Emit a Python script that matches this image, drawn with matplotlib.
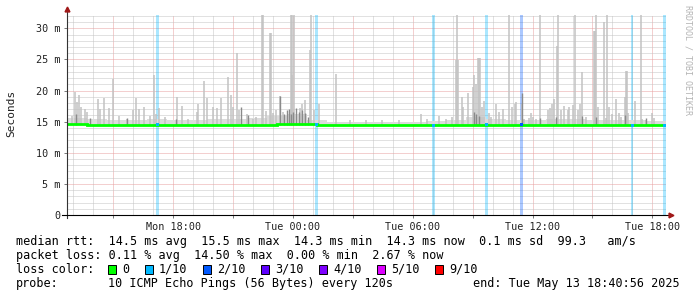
import numpy as np
import pandas as pd
import matplotlib
matplotlib.use('Agg')
import matplotlib.pyplot as plt
import matplotlib.dates as mdates
from matplotlib.ticker import MultipleLocator, FuncFormatter
from matplotlib.patches import Rectangle

# 30 hour window ending at probe time
start = pd.Timestamp('2025-05-12 12:40:56')
end = pd.Timestamp('2025-05-13 18:40:56')

# median rtt (ms), one value per half hour
median_rtt = [14.6, 14.6, 14.5, 14.5, 14.5, 14.5, 14.4, 14.5, 14.5, 14.5,
              14.4, 14.5, 14.5, 14.5, 14.4, 14.5, 14.5, 14.5, 14.4, 14.5,
              14.5, 14.6, 14.7, 14.7, 14.6, 14.5, 14.5, 14.4, 14.4, 14.5,
              14.4, 14.5, 14.4, 14.5, 14.4, 14.5, 14.4, 14.5, 14.5, 14.5,
              14.5, 14.5, 14.5, 14.5, 14.4, 14.5, 14.5, 14.4, 14.5, 14.4,
              14.5, 14.5, 14.5, 14.4, 14.5, 14.5, 14.4, 14.5, 14.5, 14.4]

# top of the light smoke band (ms), one value per hour
smoke_base = [15.6, 15.4, 15.3, 15.3, 15.4, 15.3, 15.3, 15.5, 15.5, 15.6,
              15.9, 16.2, 15.2, 14.9, 14.9, 14.9, 14.9, 15.0, 15.1, 15.3,
              15.7, 15.4, 15.3, 15.2, 15.4, 15.4, 15.3, 15.3, 15.2, 15.1]

# single smoke spikes: hours after start, top in ms
spike_h = [0.24, 0.40, 0.49, 0.60, 0.69, 0.90, 1.00, 1.57, 1.67, 1.87,
           2.12, 2.29, 2.60, 2.99, 3.32, 3.45, 3.60, 3.87, 4.17, 4.37,
           4.47, 4.62, 4.90, 5.49, 5.77, 6.07, 6.49, 6.57, 6.87, 7.02,
           7.32, 7.49, 7.70, 8.07, 8.20, 8.32, 8.52, 8.60, 8.99, 9.32,
           9.49, 9.79, 9.84, 9.99, 10.19, 10.24, 10.32, 10.45, 10.65, 10.82,
           11.20, 11.25, 11.29, 11.38, 11.65, 11.77, 11.90, 12.15, 12.20, 12.39,
           12.62, 13.49, 14.15, 14.95, 15.80, 16.65, 17.74, 18.05, 18.65, 18.99,
           19.27, 19.49, 19.52, 19.57, 19.78, 19.85, 20.07, 20.32, 20.40, 20.49,
           20.57, 20.62, 20.67, 20.77, 20.87, 21.12, 21.24, 21.49, 21.62, 21.82,
           22.12, 22.29, 22.45, 22.50, 22.78, 22.90, 23.15, 23.24, 23.35, 23.50,
           23.68, 24.07, 24.19, 24.29, 24.37, 24.52, 24.60, 24.74, 24.90, 25.07,
           25.15, 25.35, 25.45, 25.57, 25.69, 25.79, 25.99, 26.40, 26.45, 26.49,
           26.57, 26.87, 27.00, 27.07, 27.15, 27.29, 27.52, 27.65, 27.75, 27.93,
           27.98, 28.03, 28.12, 28.45, 28.74, 28.82, 28.99, 29.29, 29.40]
spike_top = [15.9, 19.8, 18.2, 19.3, 17.4, 17.0, 16.6, 18.6, 17.0, 18.8,
             17.2, 21.9, 15.9, 15.4, 16.9, 18.8, 17.0, 17.3, 15.9, 22.5,
             16.2, 17.2, 15.8, 19.0, 17.5, 15.5, 16.6, 17.9, 21.5, 18.8,
             17.3, 17.2, 18.8, 22.2, 19.3, 17.4, 26.0, 16.9, 16.2, 15.5,
             15.8, 33.0, 33.0, 16.7, 29.3, 29.2, 16.4, 16.9, 19.2, 16.6,
             33.0, 33.0, 22.5, 33.0, 17.2, 17.9, 18.5, 26.5, 33.0, 16.9,
             17.9, 22.6, 15.3, 15.2, 15.3, 15.2, 16.2, 15.4, 15.9, 15.5,
             15.7, 24.9, 33.0, 24.9, 19.0, 17.4, 19.6, 20.6, 22.5, 21.0,
             25.2, 25.2, 25.2, 17.4, 18.4, 16.4, 15.8, 17.9, 16.6, 17.0,
             33.0, 17.4, 17.8, 18.2, 17.8, 15.4, 15.6, 16.4, 15.8, 15.4,
             33.0, 16.9, 17.2, 17.9, 18.6, 27.2, 33.0, 16.9, 17.5, 16.9,
             17.4, 17.7, 33.0, 16.9, 17.8, 23.0, 15.8, 29.5, 29.5, 33.0,
             17.3, 31.1, 15.6, 33.0, 17.4, 16.2, 18.6, 16.4, 15.8, 19.0,
             23.2, 23.2, 16.4, 18.4, 33.0, 15.5, 15.2, 16.4, 15.6]

# darker (inner) smoke
dark_h = [0.45, 1.15, 3.00, 5.45, 8.70, 9.05, 10.65, 10.85, 11.00, 11.10,
          11.23, 11.30, 11.45, 11.60, 11.75, 11.90, 12.05, 20.40, 20.50, 20.65,
          22.78, 23.70, 24.50, 25.80, 26.50, 27.95, 29.00]
dark_top = [16.3, 15.6, 15.6, 15.5, 17.4, 16.0, 19.2, 16.2, 16.8, 17.0,
            16.2, 16.5, 17.2, 16.6, 16.9, 16.4, 15.8, 16.6, 16.2, 15.9,
            19.6, 15.6, 15.8, 15.9, 15.7, 16.0, 15.6]

# packet loss events: hours after start, loss in tenths
loss_h = [4.55, 12.50, 18.35, 21.00, 22.78, 28.30, 29.93]
loss_level = [1, 1, 1, 1, 2, 1, 1]

loss_colors = {0: '#00ff00', 1: '#00b8ff', 2: '#0059ff', 3: '#5e00ff',
               4: '#7e00ff', 5: '#dd00ff', 9: '#ff0000'}
legend_levels = [0, 1, 2, 3, 4, 5, 9]
legend_labels = ['0', '1/10', '2/10', '3/10', '4/10', '5/10', '9/10']

mono = 'DejaVu Sans Mono'
W, H = 697, 297
ymax = 32.15

t0 = mdates.date2num(start)
t1 = mdates.date2num(end)


def hrs(h):
    return t0 + np.asarray(h) / 24.0


fig = plt.figure(figsize=(W / 100, H / 100), dpi=100)
ax = fig.add_axes([67 / W, (H - 215) / H, 599 / W, 200 / H])
ax.set_xlim(t0, t1)
ax.set_ylim(0, ymax)
for s in ax.spines.values():
    s.set_visible(False)

# grid
grid_gray = '#c4c4c4'
grid_red = '#e8a0a0'
dots = (0, (1, 1))
ax.yaxis.set_major_locator(MultipleLocator(5))
ax.yaxis.set_minor_locator(MultipleLocator(1))
ax.xaxis.set_major_locator(mdates.HourLocator(byhour=range(0, 24, 3)))
ax.xaxis.set_minor_locator(mdates.HourLocator())
ax.grid(which='minor', color=grid_gray, lw=0.72, ls=dots, zorder=0)
ax.grid(which='major', color=grid_red, lw=0.72, ls=dots, zorder=0)
ax.set_axisbelow(True)

# loss bars
for h, lv in zip(loss_h, loss_level):
    ax.axvspan(hrs(h) - 0.07 / 24, hrs(h) + 0.07 / 24, color=loss_colors[lv],
               alpha=0.33, lw=0, zorder=1)

# smoke
edges_h = t0 + np.arange(len(smoke_base) + 1) / 24.0
ax.stairs(smoke_base, edges_h, baseline=14.4, fill=True, color='#dcdcdc', zorder=2)
ax.vlines(hrs(spike_h), 14.4, spike_top, color='#c2c2c2', lw=1.1, zorder=2)
ax.vlines(hrs(dark_h), 14.4, dark_top, color='#8a8a8a', lw=1.0, zorder=3)

# median line
edges_m = t0 + np.arange(len(median_rtt) + 1) / 48.0
ax.stairs(median_rtt, edges_m, baseline=None, color=loss_colors[0], lw=2.0, zorder=4)
med_at_loss = [median_rtt[min(int(h * 2), len(median_rtt) - 1)] for h in loss_h]
ax.scatter(hrs(loss_h), med_at_loss, marker='s', s=5,
           c=[loss_colors[lv] for lv in loss_level], lw=0, zorder=5)

# ticks
ax.xaxis.set_major_formatter(FuncFormatter(
    lambda v, p: mdates.num2date(v).strftime('%a %H:%M') if mdates.num2date(v).hour % 6 == 0 else ''))
ax.yaxis.set_major_formatter(FuncFormatter(lambda v, p: '0' if v == 0 else '%d m' % v))
ax.tick_params(which='major', length=2, width=0.7, color='#777777', labelsize=7.3, pad=3,
               labelcolor='#222222')
ax.tick_params(which='minor', length=0)
for lab in ax.get_xticklabels() + ax.get_yticklabels():
    lab.set_family(mono)

# axis lines with arrows
ax.plot([0, 0], [-0.015, 1.03], transform=ax.transAxes, color='#333333', lw=0.8, clip_on=False, zorder=6)
ax.plot([-0.008, 1.008], [0, 0], transform=ax.transAxes, color='black', lw=0.8, clip_on=False, zorder=6)
ax.plot([0], [1.03], marker='^', ms=3.5, color='#a01818', transform=ax.transAxes, clip_on=False, zorder=7)
ax.plot([1.008], [0], marker='>', ms=3.5, color='#a01818', transform=ax.transAxes, clip_on=False, zorder=7)

# labels
fig.text(11 / W, 1 - 113 / H, 'Seconds', rotation=90, ha='center', va='center',
         family=mono, fontsize=8, color='#222222')
fig.text(688 / W, 1 - 5 / H, 'RRDTOOL / TOBI OETIKER', rotation=270, ha='center', va='top',
         family=mono, fontsize=6, color='#b4b4b4')

# legend block
cw = 7.09
rows = [241, 255.5, 269.5, 284]
fs = 8.5
fig.text(16 / W, 1 - rows[0] / H,
         'median rtt:  14.5 ms avg  15.5 ms max  14.3 ms min  14.3 ms now  0.1 ms sd  99.3   am/s',
         family=mono, fontsize=fs, va='center', ha='left')
fig.text(16 / W, 1 - rows[1] / H,
         'packet loss: 0.11 % avg  14.50 % max  0.00 % min  2.67 % now',
         family=mono, fontsize=fs, va='center', ha='left')
fig.text(16 / W, 1 - rows[2] / H, 'loss color:', family=mono, fontsize=fs, va='center', ha='left')
x = 16 + 13 * cw
for lv, lab in zip(legend_levels, legend_labels):
    fig.add_artist(Rectangle((x / W, 1 - (rows[2] + 4.5) / H), 8 / W, 9 / H,
                             transform=fig.transFigure, fc=loss_colors[lv], ec='black', lw=0.7))
    tx = x + 14
    fig.text(tx / W, 1 - rows[2] / H, lab, family=mono, fontsize=fs, va='center', ha='left')
    x = tx + (len(lab) + 2) * cw + 1.5
fig.text(16 / W, 1 - rows[3] / H, 'probe:', family=mono, fontsize=fs, va='center', ha='left')
fig.text((16 + 13 * cw) / W, 1 - rows[3] / H, '10 ICMP Echo Pings (56 Bytes) every 120s',
         family=mono, fontsize=fs, va='center', ha='left')
fig.text(680 / W, 1 - rows[3] / H, 'end: Tue May 13 18:40:56 2025',
         family=mono, fontsize=fs, va='center', ha='right')

fig.savefig('out.png', dpi=100, facecolor='white')
